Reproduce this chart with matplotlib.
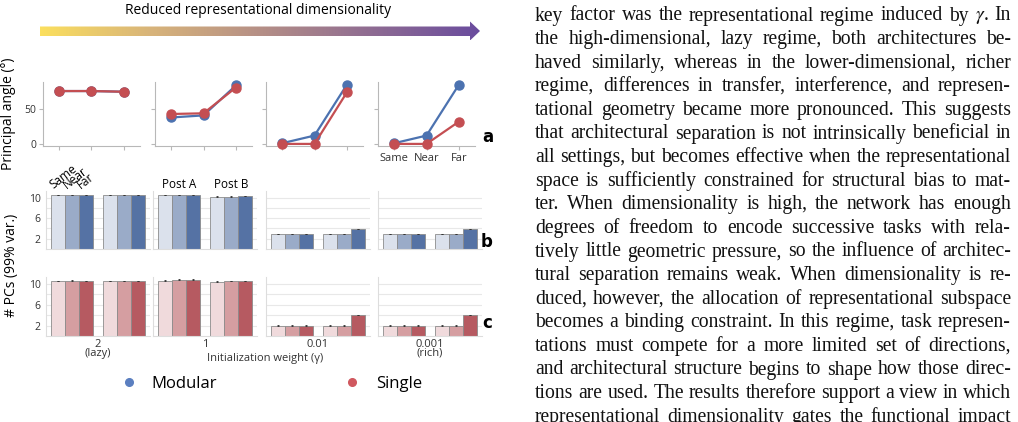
import numpy as np
import matplotlib
matplotlib.use("Agg")
import matplotlib.pyplot as plt
from matplotlib.colors import LinearSegmentedColormap
from matplotlib.path import Path
from matplotlib.patches import PathPatch
from matplotlib.lines import Line2D

plt.rcParams['font.family'] = ['Open Sans', 'DejaVu Sans']
plt.rcParams['mathtext.fontset'] = 'stix'

W, H = 1018, 422
DPI = 100

# ---------------- data ----------------
conditions = ["Same", "Near", "Far"]
gammas = ["2", "1", "0.01", "0.001"]
gamma_notes = ["(lazy)", "", "", "(rich)"]
phases = ["Post A", "Post B"]

angle_modular = [[76, 76, 75], [38, 41, 84], [1, 12, 85], [1, 12, 85]]
angle_single = [[76, 76, 75], [43, 44, 81], [0, 0, 74], [0, 0, 32]]

# # PCs per gamma: [Post A (Same, Near, Far), Post B (Same, Near, Far)]
pcs_modular = [
    [[10.5, 10.5, 10.5], [10.5, 10.5, 10.5]],
    [[10.5, 10.5, 10.5], [10.2, 10.2, 10.3]],
    [[2.9, 2.9, 2.9], [2.9, 2.9, 3.9]],
    [[2.9, 2.9, 2.9], [2.9, 2.9, 3.9]],
]
pcs_single = [
    [[10.5, 10.6, 10.5], [10.5, 10.5, 10.5]],
    [[10.6, 10.8, 10.8], [10.4, 10.5, 10.5]],
    [[2.0, 2.0, 2.0], [2.0, 2.0, 4.0]],
    [[2.0, 2.0, 2.0], [2.0, 2.0, 4.0]],
]
pcs_err = [0.05, 0.05, 0.05]

paragraph = [
    "key factor was the representational regime induced by $\\gamma$. In",
    "the high-dimensional, lazy regime, both architectures be-",
    "haved similarly, whereas in the lower-dimensional, richer",
    "regime, differences in transfer, interference, and represen-",
    "tational geometry became more pronounced. This suggests",
    "that architectural separation is not intrinsically beneficial in",
    "all settings, but becomes effective when the representational",
    "space is sufficiently constrained for structural bias to mat-",
    "ter. When dimensionality is high, the network has enough",
    "degrees of freedom to encode successive tasks with rela-",
    "tively little geometric pressure, so the influence of architec-",
    "tural separation remains weak. When dimensionality is re-",
    "duced, however, the allocation of representational subspace",
    "becomes a binding constraint. In this regime, task represen-",
    "tations must compete for a more limited set of directions,",
    "and architectural structure begins to shape how those direc-",
    "tions are used. The results therefore support a view in which",
    "representational dimensionality gates the functional impact",
]

# ---------------- style ----------------
c_mod = "#4c72b0"
c_sin = "#c44e52"
blues = ["#dbe1ec", "#9aabc8", "#5572a4"]
reds = ["#f0dadc", "#d59ea1", "#b65a61"]
spine_c = "#b8b8b8"
grid_c = "#e8e8e8"

fig = plt.figure(figsize=(W / DPI, H / DPI), dpi=DPI)


def px_axes(x0, y0, x1, y1):
    return fig.add_axes([x0 / W, 1 - y1 / H, (x1 - x0) / W, (y1 - y0) / H])


# overlay in pixel coordinates
ov = fig.add_axes([0, 0, 1, 1])
ov.set_xlim(0, W)
ov.set_ylim(H, 0)
ov.axis("off")

# gradient arrow
ax0, ax1, yb0, yb1, yh0, yh1, xh = 40, 480, 26.5, 36, 21.5, 40.5, 470
verts = [(ax0, yb0), (xh, yb0), (xh, yh0), (ax1, (yh0 + yh1) / 2), (xh, yh1), (xh, yb1), (ax0, yb1), (ax0, yb0)]
codes = [Path.MOVETO] + [Path.LINETO] * 6 + [Path.CLOSEPOLY]
patch = PathPatch(Path(verts, codes), facecolor="none", edgecolor="none")
ov.add_patch(patch)
cmap = LinearSegmentedColormap.from_list("arr", ["#fbdf5e", "#d8b47a", "#b58f86", "#8f6c92", "#6a4c9e"])
grad = np.linspace(0, 1, 256).reshape(1, -1)
im = ov.imshow(grad, cmap=cmap, extent=(ax0, ax1, yh1, yh0), aspect="auto", zorder=1)
im.set_clip_path(patch)
ov.text(258, 11, "Reduced representational dimensionality", ha="center", va="center", fontsize=10)

# ---------------- row a: principal angle ----------------
a_boxes = [(43, 140), (155, 252), (266, 363), (378, 475)]
xpos = np.arange(len(conditions))
for i, (x0, x1) in enumerate(a_boxes):
    ax = px_axes(x0, 82, x1, 146)
    ax.plot(xpos, angle_modular[i], color=c_mod, lw=1.6, marker="o", ms=6.5, zorder=3, clip_on=False)
    ax.plot(xpos, angle_single[i], color=c_sin, lw=1.6, marker="o", ms=6.5, zorder=4, clip_on=False)
    ax.set_xlim(-0.5, 2.5)
    ax.set_ylim(-3, 89)
    ax.set_yticks([0, 50])
    ax.set_xticks(xpos)
    for s in ["top", "right"]:
        ax.spines[s].set_visible(False)
    for s in ["left", "bottom"]:
        ax.spines[s].set_color(spine_c)
        ax.spines[s].set_linewidth(0.8)
    ax.tick_params(colors=spine_c, labelcolor="#333333", length=3, width=0.8, labelsize=7.5, pad=2)
    if i == 0:
        ax.set_ylabel("Principal angle (°)", fontsize=10, labelpad=6)
    else:
        ax.set_yticklabels([])
    if i == 3:
        ax.set_xticklabels(conditions, fontsize=8)
    else:
        ax.set_xticklabels([])

# ---------------- rows b, c: # PCs ----------------
bar_boxes = [(46, 150), (153, 257), (266, 370), (378, 482)]
rows = [(191, 249, pcs_modular, blues), (277, 336, pcs_single, reds)]
bw = 0.8 / 3
for r, (y0, y1, data, cols) in enumerate(rows):
    for i, (x0, x1) in enumerate(bar_boxes):
        ax = px_axes(x0, y0, x1, y1)
        for g in range(len(phases)):
            for k in range(len(conditions)):
                ax.bar(g + (k - 1) * bw, data[i][g][k], width=bw, color=cols[k],
                       edgecolor="#8c8c8c", linewidth=0.6, zorder=2)
                ax.errorbar(g + (k - 1) * bw, data[i][g][k], yerr=pcs_err[k], color="#333333",
                            lw=0.8, capsize=1, capthick=0.6, zorder=3)
        ax.set_xlim(-0.5, 1.5)
        ax.set_ylim(0, 11.3)
        ax.set_yticks([2, 4, 6, 8, 10])
        ax.yaxis.grid(True, color=grid_c, lw=0.8, zorder=0)
        ax.set_axisbelow(True)
        for s in ["top", "right"]:
            ax.spines[s].set_visible(False)
        for s in ["left", "bottom"]:
            ax.spines[s].set_color("#dddddd")
            ax.spines[s].set_linewidth(0.8)
        ax.tick_params(axis="y", length=0, labelsize=7.5, labelcolor="#333333", pad=4)
        if i == 0:
            ax.set_yticklabels(["2", "", "6", "", "10"])
        else:
            ax.set_yticklabels([])
        if r == 1:
            lab = gammas[i] + ("\n" + gamma_notes[i] if gamma_notes[i] else "")
            ax.set_xticks([0.5])
            ax.set_xticklabels([lab], fontsize=8, linespacing=0.75, color="#333333")
            ax.tick_params(axis="x", length=0, pad=2)
        else:
            ax.set_xticks([])
        if r == 0 and i == 0:
            for k, c in enumerate(conditions):
                ax.annotate(c, xy=((k - 1) * bw - 0.1, 1.03), xycoords=("data", "axes fraction"),
                            rotation=38, rotation_mode="anchor", ha="left", va="baseline", fontsize=8.5)
        if r == 0 and i == 1:
            for g, p in enumerate(phases):
                ax.annotate(p, xy=(g, 1.0), xycoords=("data", "axes fraction"),
                            ha="center", va="bottom", fontsize=8.5)

ov.text(12, 265, "# PCs (99% var.)", rotation=90, ha="center", va="center", fontsize=10)
ov.text(265, 358, "Initialization weight (γ)", ha="center", va="center", fontsize=8, color="#333333")

for lab, (x, y) in zip(["a", "b", "c"], [(488, 137), (487, 242), (487, 323)]):
    ov.text(x, y, lab, ha="center", va="center", fontsize=12, fontweight="bold", family="DejaVu Sans")

# legend
handles = [Line2D([], [], ls="none", marker="o", ms=5.5, color="#5b7fc0"),
           Line2D([], [], ls="none", marker="o", ms=5.5, color="#d0585f")]
fig.legend(handles, ["Modular", "Single"], ncol=2, frameon=False, loc="center",
           bbox_to_anchor=(271 / W, 1 - 384 / H), fontsize=12, handletextpad=0.9,
           columnspacing=7.6, handlelength=1.0)

# ---------------- paragraph (justified) ----------------
fig.canvas.draw()
renderer = fig.canvas.get_renderer()
px0, px1 = 535, 1011
y_first, dy = 20.5, 23.6
# font size so that the tightest line fits with natural spacing
probe = [ov.text(0, -100, ln, fontsize=10, family="Liberation Serif") for ln in paragraph]
nat = max(t.get_window_extent(renderer).width for t in probe)
for t in probe:
    t.remove()
fs = 10 * (px1 - px0) / nat * 0.995
for li, line in enumerate(paragraph):
    y = y_first + li * dy
    words = line.split(" ")
    texts = [ov.text(0, y, w, fontsize=fs, family="Liberation Serif", ha="left", va="baseline",
                     color="#111111") for w in words]
    widths = [t.get_window_extent(renderer).width for t in texts]
    gap = (px1 - px0 - sum(widths)) / max(len(words) - 1, 1)
    x = px0
    for t, w in zip(texts, widths):
        t.set_x(x)
        x += w + gap

fig.savefig("out.png", dpi=DPI)
